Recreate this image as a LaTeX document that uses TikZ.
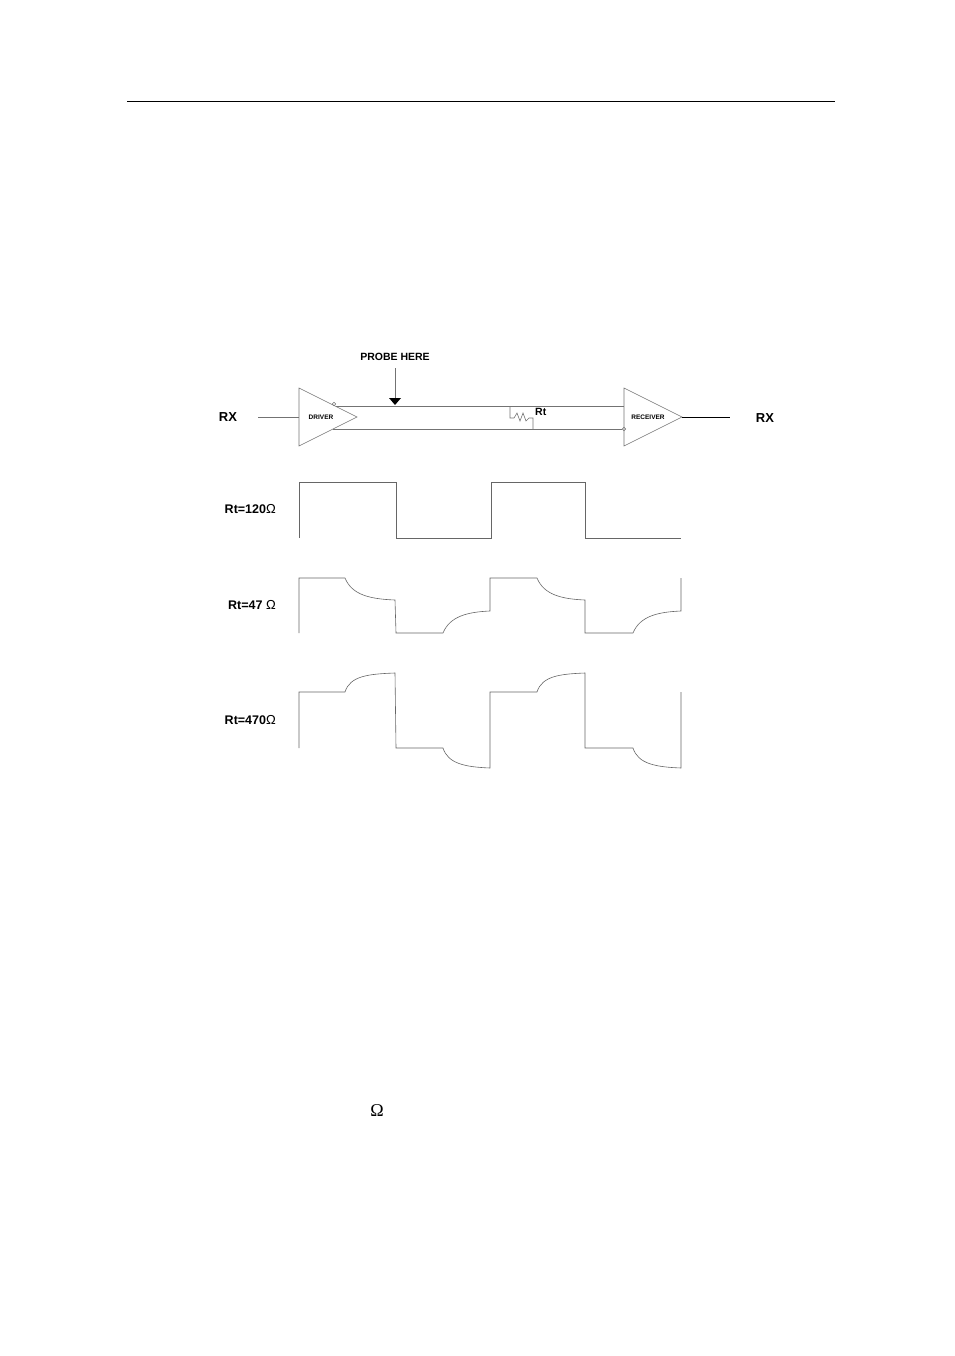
\documentclass[tikz,border=0pt]{standalone}
\usepackage{fontspec}
\setmainfont{Liberation Sans}
\newfontfamily\serifom{Liberation Serif}
\begin{document}
\begin{tikzpicture}[x=1pt,y=-1pt,
  wire/.style={draw=black!55,line width=0.6pt},
  wave/.style={draw=black!60,line width=0.6pt},
  lbl/.style={font=\bfseries\fontsize{12.5}{13}\selectfont,inner sep=0pt},
  big/.style={font=\bfseries\fontsize{13}{14}\selectfont,inner sep=0pt},
  mid/.style={font=\bfseries\fontsize{10.5}{11}\selectfont,inner sep=0pt},
  tiny/.style={font=\bfseries\fontsize{6.5}{7}\selectfont,inner sep=0pt}]
\useasboundingbox (0,0) rectangle (954,1356);
\draw[line width=0.7pt] (127,101) -- (835,101);
% driver and receiver
\draw[wire] (299,388) -- (357,417) -- (299,446) -- cycle;
\draw[wire] (624,388) -- (682,417) -- (624,446) -- cycle;
\node[tiny] (drv) at (321,417) {DRIVER};
\node[tiny] (rcv) at (648,417) {RECEIVER};
\coordinate (in) at (258,417);
\coordinate (out) at (730,417);
\draw[wire] (in) -- (299,417);
\draw[line width=0.7pt] (682,417) -- (out);
\draw[wire] (334,404) circle (1.8);
\draw[wire] (624,429) circle (1.8);
\draw[wire] (336,406) -- (624,406);
\draw[wire] (333,429) -- (622,429);
% resistor
\draw[wire] (510,406) -- (510,418) -- (514,418) -- (517,413) -- (520,421) -- (523,413) -- (526,421) -- (529,418) -- (533,418) -- (533,429);
\node[mid,anchor=west] (rt) at (535,412) {Rt};
% probe
\node[mid] (probe) at (395,357) {PROBE HERE};
\draw[wire] (395,368) -- (395,399);
\fill (389,398) -- (401,398) -- (395,405) -- cycle;
\node[big] (rxl) at (228,417) {RX};
\node[big] (rxr) at (765,418) {RX};
% labels
\node[lbl,anchor=east] (l1) at (276,509) {Rt=120{\serifom\normalfont\fontsize{13}{13}\selectfont Ω}};
\node[lbl,anchor=east] (l2) at (276,605) {Rt=47 {\serifom\normalfont\fontsize{13}{13}\selectfont Ω}};
\node[lbl,anchor=east] (l3) at (276,720) {Rt=470{\serifom\normalfont\fontsize{13}{13}\selectfont Ω}};
% waves
\draw[wave] (299,538) -- (299,482) -- (396,482) -- (396,538) -- (491,538) -- (491,482) -- (585,482) -- (585,538) -- (681,538);
\draw[wave] (299,633) -- (299,578) -- (345,578) .. controls (352,595) and (370,599) .. (395,600) -- (396,633) -- (443,633)
  .. controls (450,616) and (468,612) .. (490,611) -- (490,578) -- (537,578) .. controls (544,595) and (562,599) .. (585,600)
  -- (585,633) -- (633,633) .. controls (640,616) and (658,612) .. (681,611) -- (681,578);
\draw[wave] (299,748) -- (299,692) -- (345,692) .. controls (350,676) and (368,674) .. (395,673) -- (396,748) -- (443,748)
  .. controls (448,764) and (466,767) .. (490,768) -- (490,692) -- (537,692) .. controls (542,676) and (560,674) .. (585,673)
  -- (585,748) -- (633,748) .. controls (638,764) and (656,767) .. (681,768) -- (681,692);
\node[font=\serifom\fontsize{18}{18}\selectfont,inner sep=0pt] (om) at (377,1111) {Ω};
\end{tikzpicture}
\end{document}
